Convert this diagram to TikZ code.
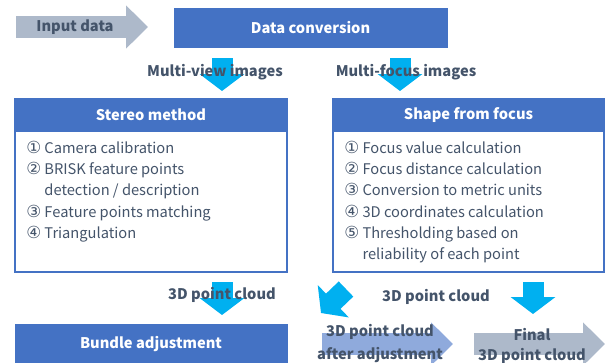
\documentclass[tikz,border=0pt]{standalone}
\usepackage{fontspec}
\setmainfont{Noto Sans CJK JP}
\newfontfamily\circfont{DejaVu Sans}
\usetikzlibrary{arrows.meta}

\definecolor{boxblue}{HTML}{4472C4}
\definecolor{flowcyan}{HTML}{00B0F0}
\definecolor{slate}{HTML}{44546A}
\definecolor{arrowgray}{HTML}{ADB9CA}
\definecolor{arrowblue}{HTML}{8FAADC}

\newcommand{\cnum}[1]{{\circfont\fontsize{12.5}{15.9}\selectfont #1}}

\tikzset{
  headbox/.style={fill=boxblue,draw=boxblue,text=white,font=\fontsize{11}{13}\selectfont\bfseries,inner sep=0pt},
  listbox/.style={draw=boxblue,line width=1.2pt,fill=white,inner sep=0pt},
  listtext/.style={align=left,text=slate,font=\fontsize{11}{15.9}\selectfont,inner sep=0pt},
  flowlabel/.style={text=slate,font=\fontsize{11}{15}\selectfont\bfseries,inner sep=0pt,align=center},
  flow/.style={draw=flowcyan,line width=15.75pt,-{Triangle[width=33pt,length=12.75pt]}},
  bigflow/.style={line width=16pt,-{Triangle[width=31.5pt,length=16.5pt]}},
}

\begin{document}
\begin{tikzpicture}[x=0.75pt,y=-0.75pt]
  \clip (0,0) rectangle (605,362);
  \useasboundingbox (0,0) rectangle (605,362);

  % boxes
  \node[headbox,minimum width=204.75pt,minimum height=29.25pt] (conv) at (310.5,27.5) {Data conversion};
  \node[listbox,minimum width=204pt,minimum height=129.75pt] (stereo) at (151,185.5) {};
  \node[headbox,minimum width=204pt,minimum height=24.75pt,anchor=north] (stereohead) at (stereo.north) {Stereo method};
  \node[listbox,minimum width=203.25pt,minimum height=129.75pt] (sff) at (468.5,185.5) {};
  \node[headbox,minimum width=203.25pt,minimum height=24.75pt,anchor=north] (sffhead) at (sff.north) {Shape from focus};
  \node[headbox,minimum width=204pt,minimum height=30pt] (bundle) at (151,344) {Bundle adjustment};

  % list texts
  \node[listtext,anchor=north west] (stereolist) at (26,141) {%
    \cnum{①} Camera calibration\\
    \cnum{②} BRISK feature points\\
    \phantom{\cnum{②}} detection / description\\
    \cnum{③} Feature points matching\\
    \cnum{④} Triangulation};
  \node[listtext,anchor=north west] (sfflist) at (344,141) {%
    \cnum{①} Focus value calculation\\
    \cnum{②} Focus distance calculation\\
    \cnum{③} Conversion to metric units\\
    \cnum{④} 3D coordinates calculation\\
    \cnum{⑤} Thresholding based on\\
    \phantom{\cnum{⑤}} reliability of each point};

  % arrows
  \coordinate (inA) at (16,27);
  \coordinate (inB) at (148,27);
  \draw[bigflow,draw=arrowgray] (inA) -- (inB);
  \coordinate (mvA) at (222,58);
  \coordinate (mvB) at (222,91);
  \draw[flow] (mvA) -- (mvB);
  \coordinate (mfA) at (400,58);
  \coordinate (mfB) at (400,91);
  \draw[flow] (mfA) -- (mfB);
  \coordinate (spA) at (222,282);
  \coordinate (spB) at (222,315);
  \draw[flow] (spA) -- (spB);
  \coordinate (dgA) at (346,289);
  \coordinate (dgB) at (321,313);
  \draw[flow] (dgA) -- (dgB);
  \coordinate (sfA) at (533,282);
  \coordinate (sfB) at (533,314);
  \draw[flow] (sfA) -- (sfB);
  \coordinate (adA) at (322,344);
  \coordinate (adB) at (453,344);
  \draw[bigflow,draw=arrowblue] (adA) -- (adB);
  \coordinate (fnA) at (474,344);
  \coordinate (fnB) at (605,344);
  \draw[bigflow,draw=arrowgray] (fnA) -- (fnB);

  % labels
  \node[flowlabel] (inlbl) at (75,27) {Input data};
  \node[flowlabel] (mvlbl) at (215,72) {Multi-view images};
  \node[flowlabel] (mflbl) at (406,72) {Multi-focus images};
  \node[flowlabel] (splbl) at (222,295) {3D point cloud};
  \node[flowlabel] (sflbl) at (436,297) {3D point cloud};
  \node[flowlabel,font=\fontsize{11}{17}\selectfont\bfseries] (adlbl) at (380,343.5) {3D point cloud\\after adjustment};
  \node[flowlabel] (fnlbl) at (532,346) {Final\\3D point cloud};
\end{tikzpicture}
\end{document}
